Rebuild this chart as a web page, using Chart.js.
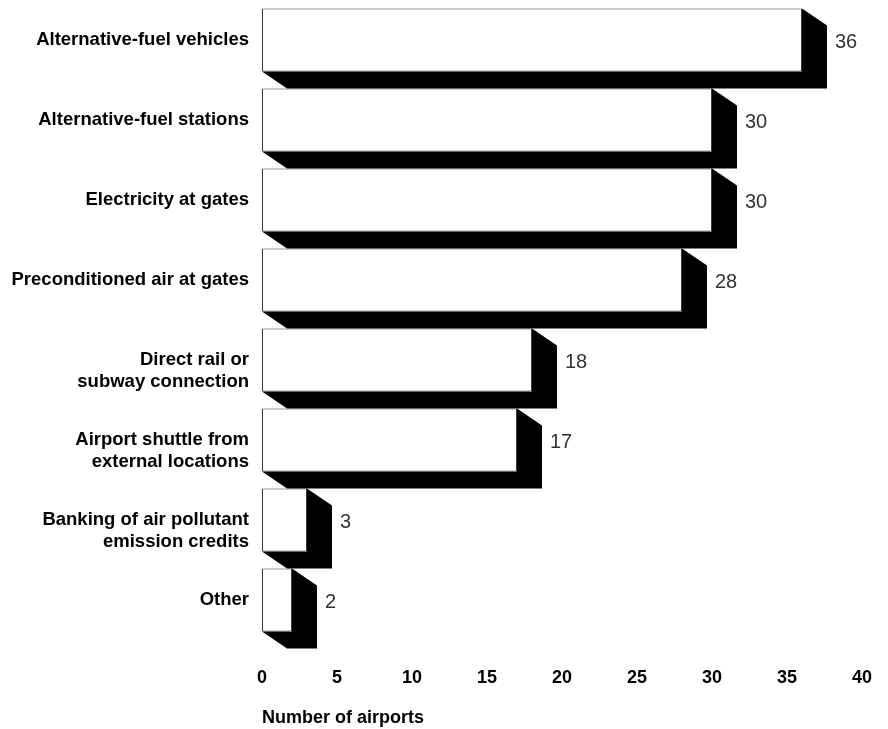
<!DOCTYPE html>
<html>
<head>
<meta charset="utf-8">
<script src="https://cdn.jsdelivr.net/npm/chart.js@4.4.1/dist/chart.umd.min.js"></script>
<style>
  html, body { margin: 0; padding: 0; background: #ffffff; }
  #wrap { width: 888px; height: 729px; position: relative; }
</style>
</head>
<body>
<div id="wrap"><canvas id="c"></canvas></div>
<script>
const categories = [
  ['Alternative-fuel vehicles'],
  ['Alternative-fuel stations'],
  ['Electricity at gates'],
  ['Preconditioned air at gates'],
  ['Direct rail or', 'subway connection'],
  ['Airport shuttle from', 'external locations'],
  ['Banking of air pollutant', 'emission credits'],
  ['Other']
];
const airports = [36, 30, 30, 28, 18, 17, 3, 2];
const xTicks = [0, 5, 10, 15, 20, 25, 30, 35, 40];
const xTitle = 'Number of airports';

const FONT = '"Liberation Sans", Arial, Helvetica, sans-serif';
const DEPTH_X = 25, DEPTH_Y = 17;

const shadowPlugin = {
  id: 'shadow3d',
  beforeDatasetsDraw(chart) {
    const ctx = chart.ctx;
    const meta = chart.getDatasetMeta(0);
    ctx.save();
    ctx.fillStyle = '#000000';
    meta.data.forEach(bar => {
      const p = bar.getProps(['x', 'y', 'base', 'height'], true);
      const top = p.y - p.height / 2, bottom = p.y + p.height / 2;
      const xs = p.base, xe = p.x;
      ctx.beginPath();
      ctx.moveTo(xe, top);
      ctx.lineTo(xe + DEPTH_X, top + DEPTH_Y);
      ctx.lineTo(xe + DEPTH_X, bottom + DEPTH_Y);
      ctx.lineTo(xs + DEPTH_X, bottom + DEPTH_Y);
      ctx.lineTo(xs, bottom);
      ctx.lineTo(xe, bottom);
      ctx.closePath();
      ctx.fill();
    });
    ctx.restore();
  },
  afterDatasetsDraw(chart) {
    const ctx = chart.ctx;
    const meta = chart.getDatasetMeta(0);
    ctx.save();
    ctx.fillStyle = '#333333';
    ctx.font = '20px ' + FONT;
    ctx.textAlign = 'left';
    ctx.textBaseline = 'middle';
    meta.data.forEach((bar, i) => {
      const p = bar.getProps(['x', 'y'], true);
      ctx.fillText(String(airports[i]), p.x + DEPTH_X + 8, p.y + 2);
    });
    ctx.restore();
  }
};

new Chart(document.getElementById('c'), {
  type: 'bar',
  data: {
    labels: categories,
    datasets: [{
      data: airports,
      backgroundColor: '#ffffff',
      borderColor: '#3a3a3a',
      borderWidth: 1,
      borderSkipped: false,
      barPercentage: 0.79,
      categoryPercentage: 1.0
    }]
  },
  options: {
    indexAxis: 'y',
    responsive: true,
    maintainAspectRatio: false,
    animation: false,
    devicePixelRatio: 1,
    layout: { padding: { top: -1.6, right: 26, left: 0, bottom: 0 } },
    plugins: { legend: { display: false }, tooltip: { enabled: false } },
    scales: {
      x: {
        type: 'linear',
        min: xTicks[0],
        max: xTicks[xTicks.length - 1],
        afterBuildTicks(scale) { scale.ticks = xTicks.map(v => ({ value: v })); },
        border: { display: false },
        grid: { display: false, drawTicks: false },
        ticks: {
          padding: 27,
          color: '#000000',
          font: { family: FONT, size: 18, weight: 'bold' }
        },
        title: {
          display: true,
          text: xTitle,
          align: 'start',
          color: '#000000',
          padding: { top: 0, bottom: 0 },
          font: { family: FONT, size: 18, weight: 'bold' }
        },
        afterFit(scale) {
          scale.height = 89;
          scale.paddingLeft = 0;
          scale.paddingRight = 0;
        }
      },
      y: {
        border: { display: false },
        grid: { display: false, drawTicks: false },
        ticks: {
          padding: 13,
          color: '#000000',
          font: { family: FONT, size: 18.5, weight: 'bold', lineHeight: 1.2 },
          callback(value, index) {
            const lines = categories[index];
            return lines.length > 1 ? [''].concat(lines) : lines;
          }
        },
        afterFit(scale) {
          scale.width = 262;
          scale.paddingTop = 0;
          scale.paddingBottom = 0;
        }
      }
    }
  },
  plugins: [shadowPlugin]
});
</script>
</body>
</html>
